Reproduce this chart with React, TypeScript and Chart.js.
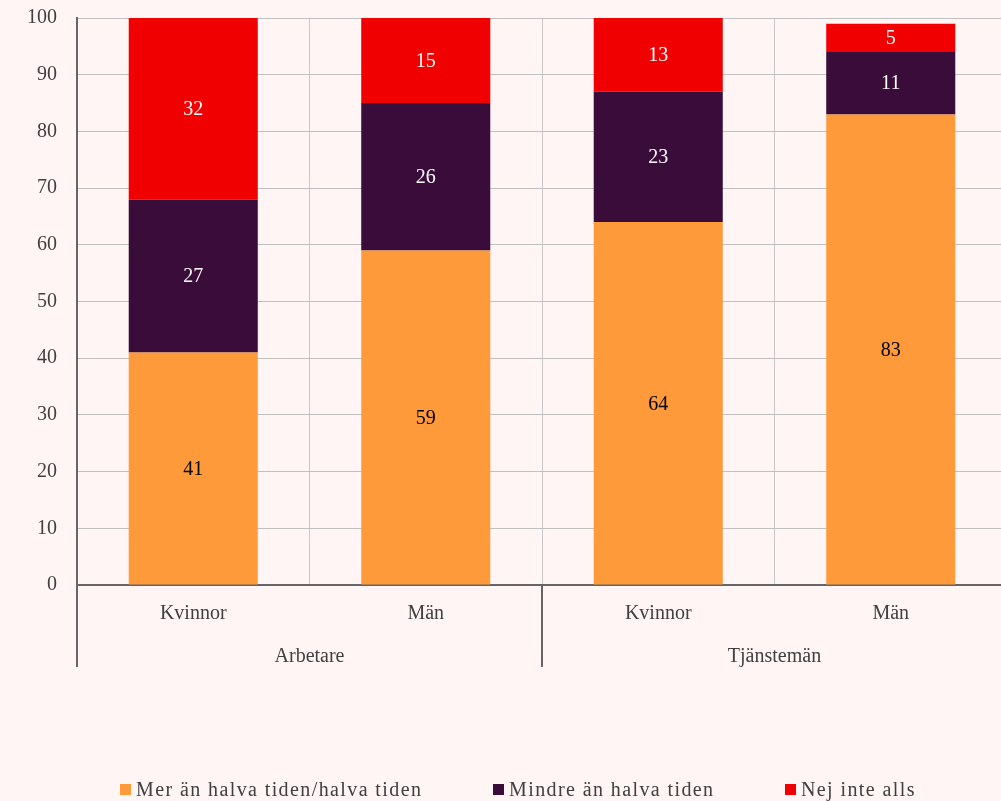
import React, { useEffect, useRef } from "react";
import { Chart, registerables } from "chart.js";
Chart.register(...registerables);

const categories = ["Kvinnor", "Män", "Kvinnor", "Män"];
const groups = ["Arbetare", "Tjänstemän"];
const groupSizes = [2, 2];
const seriesNames = ["Mer än halva tiden/halva tiden", "Mindre än halva tiden", "Nej inte alls"];
const merAnHalva = [41, 59, 64, 83];
const mindreAnHalva = [27, 26, 23, 11];
const nejInteAlls = [32, 15, 13, 5];
const seriesColors = ["#FF9A3A", "#3A0C3A", "#F00000"];
const labelColors = ["#000000", "#FFFFFF", "#FFFFFF"];

const FONT = '"Liberation Serif", "Times New Roman", serif';
const BG = "#FFF5F4";

const overlayPlugin = {
  id: "overlay",
  afterDatasetsDraw(chart: any) {
    const ctx = chart.ctx;
    ctx.save();
    ctx.font = `20px ${FONT}`;
    ctx.textAlign = "center";
    ctx.textBaseline = "middle";
    chart.data.datasets.forEach((ds: any, di: number) => {
      const meta = chart.getDatasetMeta(di);
      meta.data.forEach((el: any, i: number) => {
        const v = ds.data[i];
        const cy = (el.y + el.base) / 2;
        ctx.fillStyle = labelColors[di];
        ctx.fillText(String(v), el.x, cy + 1);
      });
    });
    ctx.restore();
  },
  afterDraw(chart: any) {
    const ctx = chart.ctx;
    const area = chart.chartArea;
    const xs = chart.scales.x;
    ctx.save();
    let start = 0;
    const half = (xs.getPixelForValue(1) - xs.getPixelForValue(0)) / 2;
    ctx.strokeStyle = "#666666";
    ctx.lineWidth = 2;
    const bounds: number[] = [];
    groupSizes.forEach((n) => {
      bounds.push(xs.getPixelForValue(start) - half);
      start += n;
    });
    bounds.push(xs.getPixelForValue(start - 1) + half);
    bounds.forEach((bx) => {
      ctx.beginPath();
      ctx.moveTo(Math.round(bx), area.bottom);
      ctx.lineTo(Math.round(bx), area.bottom + 82);
      ctx.stroke();
    });
    ctx.font = `20px ${FONT}`;
    ctx.fillStyle = "#404040";
    ctx.textAlign = "center";
    ctx.textBaseline = "middle";
    groups.forEach((g, gi) => {
      ctx.fillText(g, (bounds[gi] + bounds[gi + 1]) / 2, area.bottom + 72);
    });
    const legendX = [120, 493, 785];
    ctx.textAlign = "left";
    (ctx as any).letterSpacing = "1.4px";
    seriesNames.forEach((name, i) => {
      ctx.fillStyle = seriesColors[i];
      ctx.fillRect(legendX[i], 784, 11, 11);
      ctx.fillStyle = "#404040";
      ctx.fillText(name, legendX[i] + 16, 791);
    });
    ctx.restore();
  },
};

export default function App() {
  const ref = useRef<HTMLCanvasElement>(null);
  useEffect(() => {
    document.body.style.margin = "0";
    const chart = new Chart(ref.current as HTMLCanvasElement, {
      type: "bar",
      data: {
        labels: categories,
        datasets: [merAnHalva, mindreAnHalva, nejInteAlls].map((d, i) => ({
          label: seriesNames[i],
          data: d,
          backgroundColor: seriesColors[i],
          borderWidth: 0,
          categoryPercentage: 1,
          barPercentage: 0.555,
        })),
      },
      options: {
        responsive: false,
        animation: false,
        devicePixelRatio: 1,
        layout: { padding: { top: 18, right: 1, left: 0, bottom: 0 } },
        plugins: { legend: { display: false }, tooltip: { enabled: false } },
        scales: {
          x: {
            stacked: true,
            grid: { color: "#C8C8C8", lineWidth: 1, drawTicks: false, offset: true },
            border: { display: true, color: "#666666", width: 2 },
            ticks: { font: { family: FONT, size: 20 }, color: "#404040", padding: 17 },
            afterFit: (s: any) => { s.height = 216; s.paddingLeft = 0; s.paddingRight = 0; },
          },
          y: {
            stacked: true,
            min: 0,
            max: 100,
            grid: { color: "#C0C0C0", lineWidth: 1, drawTicks: false },
            border: { display: true, color: "#666666", width: 2 },
            ticks: { stepSize: 10, font: { family: FONT, size: 20 }, color: "#404040", padding: 20 },
            afterFit: (s: any) => { s.width = 77; s.paddingTop = 0; s.paddingBottom = 0; },
          },
        },
      },
      plugins: [overlayPlugin],
    });
    return () => chart.destroy();
  }, []);
  return (
    <div style={{ position: "absolute", left: 0, top: 0, width: 1001, height: 801, overflow: "hidden", background: BG }}>
      <canvas ref={ref} width={1008} height={801} style={{ width: 1008, height: 801, display: "block" }} />
    </div>
  );
}
